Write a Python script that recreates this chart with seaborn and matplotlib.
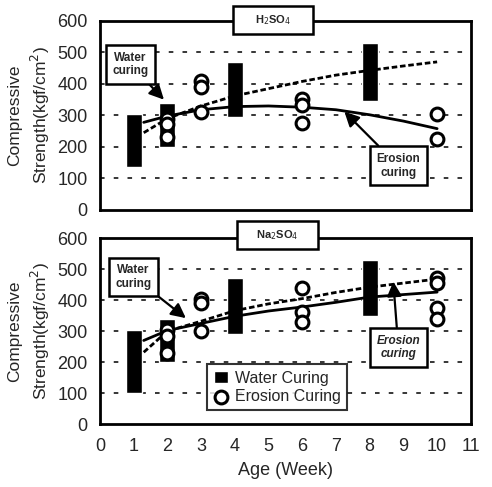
import matplotlib
matplotlib.use("Agg")
import matplotlib.pyplot as plt
from matplotlib.patches import Rectangle
import seaborn as sns
import numpy as np
import pandas as pd

# ---------------- data ----------------
bar_weeks = [1, 2, 4, 8]
h2so4_water_low = [135, 200, 295, 345]
h2so4_water_high = [305, 340, 470, 530]
na2so4_water_low = [100, 200, 290, 350]
na2so4_water_high = [305, 340, 470, 530]

h2so4_eros_weeks = [2, 2, 2, 3, 3, 3, 6, 6, 6, 10, 10]
h2so4_eros_vals = [290, 272, 230, 410, 390, 310, 352, 332, 277, 305, 225]
na2so4_eros_weeks = [2, 2, 2, 3, 3, 3, 6, 6, 6, 10, 10, 10, 10]
na2so4_eros_vals = [305, 285, 230, 405, 392, 300, 440, 362, 330, 472, 455, 375, 340]

trend_weeks = [1.3, 2, 3, 4, 5, 6, 7, 8, 9, 10]
h2so4_water_trend = [245, 290, 330, 362, 385, 408, 428, 443, 457, 470]
h2so4_eros_trend = [278, 298, 318, 328, 330, 326, 318, 302, 282, 258]
na2so4_water_trend = [232, 300, 332, 366, 388, 405, 425, 442, 455, 468]
na2so4_eros_trend = [270, 302, 325, 348, 365, 378, 393, 410, 418, 426]

x_ticks = list(range(0, 12))
y_ticks = [0, 100, 200, 300, 400, 500, 600]

sns.set_style("white")
plt.rcParams["font.family"] = ["Liberation Sans", "DejaVu Sans"]

fig = plt.figure(figsize=(4.92, 4.87), dpi=100)
ax1 = fig.add_axes([0.203, 0.569, 0.754, 0.388])
ax2 = fig.add_axes([0.203, 0.129, 0.754, 0.382])

panels = [
    (ax1, h2so4_water_low, h2so4_water_high, h2so4_eros_weeks, h2so4_eros_vals,
     h2so4_water_trend, h2so4_eros_trend, "H$_2$SO$_4$", (0.358, 0.931, 0.216, 0.148)),
    (ax2, na2so4_water_low, na2so4_water_high, na2so4_eros_weeks, na2so4_eros_vals,
     na2so4_water_trend, na2so4_eros_trend, "Na$_2$SO$_4$", (0.369, 0.941, 0.219, 0.150)),
]

for ax, lo, hi, ew, ev, wt, et, title, tb in panels:
    ax.set_xlim(0, 11)
    ax.set_ylim(0, 600)
    for yv in y_ticks[1:-1]:
        ax.axhline(yv, color="black", lw=1.1, ls=(0, (3, 6)), zorder=1)
    heights = [h - l for h, l in zip(hi, lo)]
    ax.bar(bar_weeks, heights, bottom=lo, width=0.48, color="black",
           zorder=2, label="Water Curing")
    sns.lineplot(x=trend_weeks, y=wt, ax=ax, color="black", lw=2.0,
                 linestyle=(0, (2, 1)), zorder=3)
    sns.lineplot(x=trend_weeks, y=et, ax=ax, color="black", lw=2.0,
                 linestyle="-", zorder=3)
    sns.scatterplot(x=ew, y=ev, ax=ax, marker="o", s=85, facecolor="white",
                    edgecolor="black", linewidth=2.2, zorder=4,
                    label="Erosion Curing")
    ax.set_xticks(x_ticks)
    ax.set_yticks(y_ticks)
    ax.tick_params(axis="x", direction="in", length=4, width=1.2, labelsize=13,
                   pad=10)
    ax.tick_params(axis="y", length=0, labelsize=13, pad=9)
    for sp in ax.spines.values():
        sp.set_linewidth(2.0)
        sp.set_color("black")
    ax.set_ylabel("Compressive\nStrength(kgf/cm$^2$)", fontsize=12.5,
                  linespacing=1.4)
    ax.yaxis.label.set_va("center")
    ax.yaxis.set_label_coords(-0.19, 0.5)
    ax.add_patch(Rectangle((tb[0], tb[1]), tb[2], tb[3], transform=ax.transAxes,
                           fc="white", ec="black", lw=1.8, clip_on=False, zorder=6))
    ax.text(tb[0] + tb[2] / 2, tb[1] + tb[3] / 2, title, transform=ax.transAxes,
            ha="center", va="center", fontsize=8, fontweight="bold", zorder=7)
    if ax.get_legend() is not None:
        ax.get_legend().remove()

ax1.set_xticklabels([])
ax2.set_xlabel("Age (Week)", fontsize=13, labelpad=5)

box = dict(boxstyle="square,pad=0.55", fc="white", ec="black", lw=1.8)
arrow = dict(arrowstyle="-|>", color="black", lw=1.6, mutation_scale=22,
             shrinkA=0, shrinkB=0)

ax1.annotate("Water\ncuring", xy=(1.9, 350), xytext=(0.9, 462),
             ha="center", va="center", fontsize=8.5, fontweight="bold",
             bbox=box, arrowprops=arrow, zorder=7)
ax1.annotate("Erosion\ncuring", xy=(7.25, 312), xytext=(8.85, 140),
             ha="center", va="center", fontsize=8.5, fontweight="bold",
             bbox=box, arrowprops=arrow, zorder=7)
ax2.annotate("Water\ncuring", xy=(2.55, 342), xytext=(1.0, 475),
             ha="center", va="center", fontsize=8.5, fontweight="bold",
             bbox=box, arrowprops=arrow, zorder=7)
ax2.annotate("Erosion\ncuring", xy=(8.7, 460), xytext=(8.85, 247),
             ha="center", va="center", fontsize=8.5, fontweight="bold",
             fontstyle="italic", bbox=box, arrowprops=arrow, zorder=7)

h, l = ax2.get_legend_handles_labels()
order = [l.index("Water Curing"), l.index("Erosion Curing")]
leg = ax2.legend([h[i] for i in order], [l[i] for i in order],
                 loc="lower left", bbox_to_anchor=(0.29, 0.075),
                 fontsize=11.5, frameon=True, fancybox=False, edgecolor="black",
                 handlelength=0.9, handletextpad=0.4, borderpad=0.4,
                 labelspacing=0.2, borderaxespad=0)
leg.get_frame().set_linewidth(1.5)
leg.set_zorder(8)

fig.savefig("out.png", dpi=100)
